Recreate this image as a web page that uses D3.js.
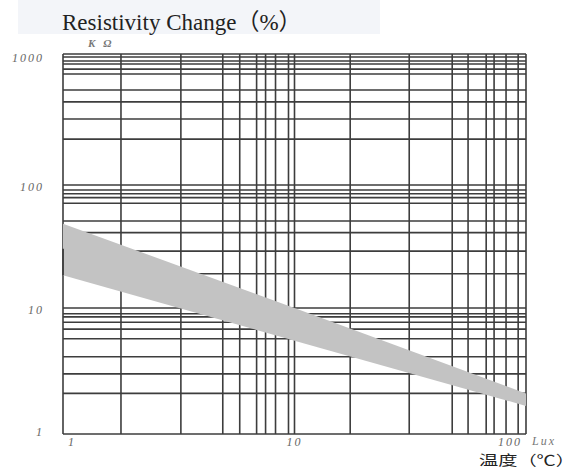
<!DOCTYPE html>
<html>
<head>
<meta charset="utf-8">
<script src="https://cdn.jsdelivr.net/npm/d3@7/dist/d3.min.js"></script>
<style>
  html, body { margin: 0; padding: 0; background: #ffffff; }
  svg { display: block; }
</style>
</head>
<body>
<div id="chart"></div>
<script>
// ---- data ----
const title = "Resistivity Change（%）";
const yUnit = "KΩ";
const xUnit = "Lux";
const xTitle = "温度（℃）";

const xTicks = [1, 10, 100];
const yTicks = [1, 10, 100, 1000];

// irregular grid lines as drawn on the original sheet
const xGrid = [1.78, 3.23, 4.9, 5.8, 6.86, 7.5, 8.28, 9.42, 10,
               17.4, 31.3, 48, 56.2, 67.3, 72.8, 82, 92.5, 100];
const yGrid = [2.1, 3.0, 4.1, 5.7, 6.8, 7.7, 8.5, 9.0, 10,
               19, 29, 41, 51, 71, 79, 85, 91, 100,
               224, 319, 431, 531, 703, 767, 839, 885, 948, 1000];

// band of resistance vs illuminance
const bandLux   = [1, 10, 100];
const bandUpper = [48.5, 10.0, 2.1];
const bandLower = [18.5, 5.5, 1.67];

// ---- drawing ----
const W = 579, H = 471;
const svg = d3.select("#chart").append("svg").attr("width", W).attr("height", H);

const x = d3.scaleLog().domain([1, 100]).range([63, 526]);
const y = d3.scaleLog().domain([1, 10, 100, 1000]).range([434, 308, 185, 54]);

// title box
svg.append("rect").attr("x", 18).attr("y", 0).attr("width", 362).attr("height", 34)
  .attr("fill", "#f3f5f9");
svg.append("text").attr("x", 62).attr("y", 30)
  .attr("font-family", "'Liberation Serif', 'Noto Sans CJK SC', serif")
  .attr("font-size", 23).attr("fill", "#222").text(title);

const grid = svg.append("g").attr("stroke", "#3d3d3d").attr("stroke-width", 1.6).attr("fill", "none");
grid.selectAll("line.v").data([1].concat(xGrid)).join("line")
  .attr("x1", d => x(d)).attr("x2", d => x(d))
  .attr("y1", y(1000)).attr("y2", y(1));
grid.selectAll("line.h").data([1].concat(yGrid)).join("line")
  .attr("class", "h")
  .attr("x1", x(1)).attr("x2", x(100))
  .attr("y1", d => y(d)).attr("y2", d => y(d));

// band
const bandData = bandLux.map((v, i) => ({ lux: v, lo: bandLower[i], hi: bandUpper[i] }));
const area = d3.area().x(d => x(d.lux)).y0(d => y(d.lo)).y1(d => y(d.hi));
svg.append("path").datum(bandData).attr("d", area).attr("fill", "#c3c3c3");

// left axis darker segment
svg.append("line").attr("x1", x(1)).attr("x2", x(1))
  .attr("y1", y(bandUpper[0]) + 25).attr("y2", y(bandLower[0]))
  .attr("stroke", "#444").attr("stroke-width", 2);

const tickFont = "'Liberation Serif', serif";
// y tick labels
svg.append("g").selectAll("text").data(yTicks).join("text")
  .attr("x", 44).attr("y", d => y(d) + (d === 1000 ? 8 : d === 1 ? 2 : 6))
  .attr("text-anchor", "end")
  .attr("font-family", tickFont).attr("font-style", "italic")
  .attr("font-size", 12).attr("letter-spacing", 2).attr("fill", "#666")
  .text(d => d);

// x tick labels
svg.append("g").selectAll("text").data(xTicks).join("text")
  .attr("x", d => x(d) + (d === 1 ? 5 : d === 10 ? -8 : -28))
  .attr("y", 446)
  .attr("font-family", tickFont).attr("font-style", "italic")
  .attr("font-size", 12).attr("letter-spacing", 2).attr("fill", "#666")
  .text(d => d);

svg.append("text").attr("x", 532).attr("y", 445)
  .attr("font-family", tickFont).attr("font-style", "italic")
  .attr("font-size", 12).attr("letter-spacing", 2).attr("fill", "#777")
  .text(xUnit);

svg.append("text").attr("x", 88).attr("y", 47)
  .attr("font-family", tickFont).attr("font-style", "italic").attr("font-weight", "bold")
  .attr("font-size", 11).attr("letter-spacing", 8).attr("fill", "#777")
  .text(yUnit);

svg.append("text").attr("x", 479).attr("y", 465)
  .attr("font-family", "'Noto Sans CJK SC', sans-serif")
  .attr("font-size", 14).attr("fill", "#222")
  .attr("textLength", 96).attr("lengthAdjust", "spacingAndGlyphs")
  .text(xTitle);
</script>
</body>
</html>
